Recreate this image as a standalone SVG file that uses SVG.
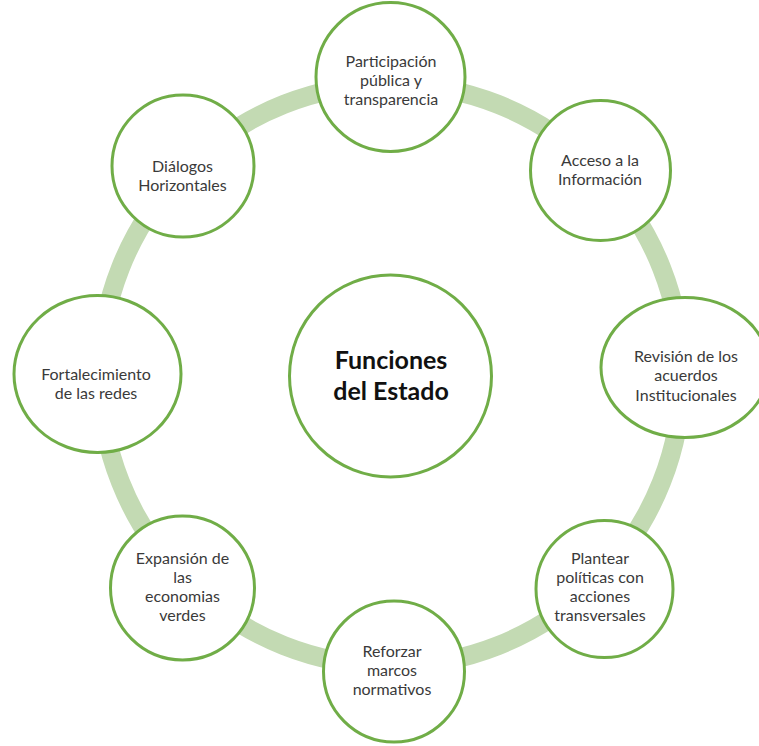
<svg xmlns="http://www.w3.org/2000/svg" width="759" height="746" viewBox="0 0 759 746">
<style>
.node{fill:#ffffff;stroke:#70ad47;stroke-width:3}
.lbl{font-family:Lato,"Liberation Sans",sans-serif;font-size:16px;fill:#3a3a3a;text-anchor:middle}
.ctr{font-family:Lato,"Liberation Sans",sans-serif;font-size:25px;font-weight:bold;fill:#111111;text-anchor:middle}
.ring{fill:none;stroke:#c3dab3;stroke-width:19}
</style>
<rect width="759" height="746" fill="#ffffff"/>
<g id="connectors">
<circle class="ring" cx="391" cy="375" r="291"/>
</g>
<g id="center">
<circle class="node" cx="390.5" cy="376" r="101"/>
<text class="ctr" x="391" y="369">Funciones</text>
<text class="ctr" x="391" y="400">del Estado</text>
</g>
<g id="n1">
<circle class="node" cx="390.5" cy="77" r="74.5"/>
<text class="lbl" x="391" y="67">Participación</text>
<text class="lbl" x="391" y="86">pública y</text>
<text class="lbl" x="391" y="105">transparencia</text>
</g>
<g id="n2">
<circle class="node" cx="600.5" cy="170.5" r="70"/>
<text class="lbl" x="600" y="166">Acceso a la</text>
<text class="lbl" x="600" y="185">Información</text>
</g>
<g id="n3">
<ellipse class="node" cx="685" cy="367.5" rx="84" ry="70"/>
<text class="lbl" x="686" y="362">Revisión de los</text>
<text class="lbl" x="686" y="381">acuerdos</text>
<text class="lbl" x="686" y="401">Institucionales</text>
</g>
<g id="n4">
<circle class="node" cx="604.5" cy="589" r="68.5"/>
<text class="lbl" x="600" y="564">Plantear</text>
<text class="lbl" x="600" y="583">políticas con</text>
<text class="lbl" x="600" y="602">acciones</text>
<text class="lbl" x="600" y="621">transversales</text>
</g>
<g id="n5">
<circle class="node" cx="394" cy="671.5" r="70.5"/>
<text class="lbl" x="392" y="657">Reforzar</text>
<text class="lbl" x="392" y="676">marcos</text>
<text class="lbl" x="392" y="695">normativos</text>
</g>
<g id="n6">
<circle class="node" cx="182.5" cy="588" r="72"/>
<text class="lbl" x="182.5" y="564">Expansión de</text>
<text class="lbl" x="182.5" y="583">las</text>
<text class="lbl" x="182.5" y="602">economias</text>
<text class="lbl" x="182.5" y="621">verdes</text>
</g>
<g id="n7">
<ellipse class="node" cx="97.5" cy="374" rx="83.5" ry="78.5"/>
<text class="lbl" x="96" y="380">Fortalecimiento</text>
<text class="lbl" x="96" y="399">de las redes</text>
</g>
<g id="n8">
<circle class="node" cx="183" cy="166" r="71"/>
<text class="lbl" x="182.5" y="172">Diálogos</text>
<text class="lbl" x="182.5" y="191">Horizontales</text>
</g>
</svg>
